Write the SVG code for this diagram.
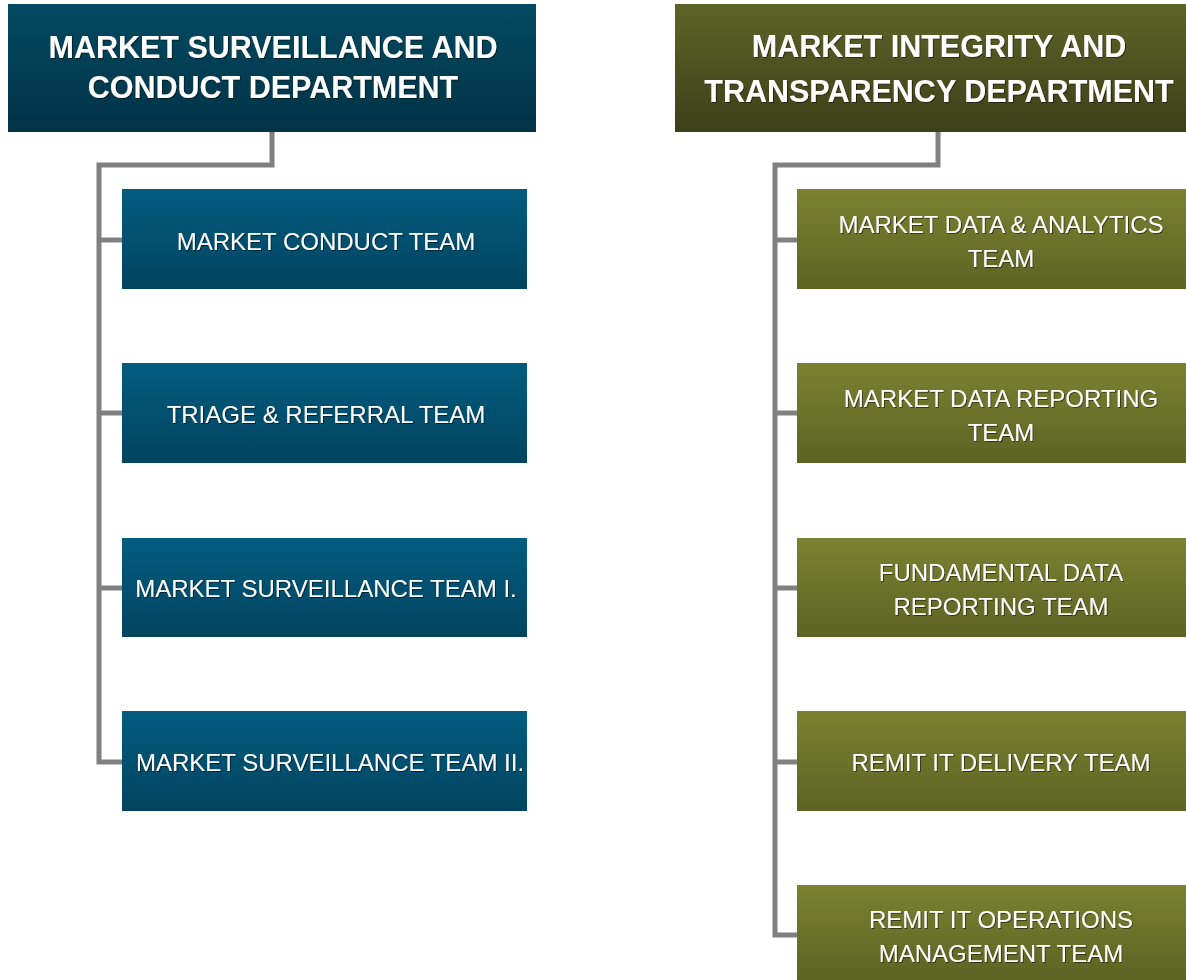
<svg xmlns="http://www.w3.org/2000/svg" width="1186" height="980" viewBox="0 0 1186 980">
<defs>
<linearGradient id="gBlueDept" x1="0" y1="0" x2="0" y2="1"><stop offset="0" stop-color="#034a62"/><stop offset="1" stop-color="#023245"/></linearGradient>
<linearGradient id="gBlueTeam" x1="0" y1="0" x2="0" y2="1"><stop offset="0" stop-color="#025c80"/><stop offset="1" stop-color="#02445f"/></linearGradient>
<linearGradient id="gGreenDept" x1="0" y1="0" x2="0" y2="1"><stop offset="0" stop-color="#5d6427"/><stop offset="1" stop-color="#3b4019"/></linearGradient>
<linearGradient id="gGreenTeam" x1="0" y1="0" x2="0" y2="1"><stop offset="0" stop-color="#7a8231"/><stop offset="1" stop-color="#5c6323"/></linearGradient>
<filter id="ts" x="-5%" y="-20%" width="110%" height="140%"><feDropShadow dx="1" dy="1" stdDeviation="0.6" flood-color="#000" flood-opacity="0.5"/></filter>
</defs>
<style>
.dept{font-family:"Liberation Sans",Arial,sans-serif;font-weight:bold;font-size:30.5px;fill:#fff;text-anchor:middle;filter:url(#ts)}
.team{font-family:"Liberation Sans",Arial,sans-serif;font-size:24px;fill:#fff;text-anchor:middle;filter:url(#ts)}
.conn{fill:none;stroke:#808080;stroke-width:5}
</style>
<rect width="1186" height="980" fill="#fff"/>
<g id="connectors">
<path class="conn" d="M272 132 V165 H99 V762 H122 M99 240 H122 M99 413 H122 M99 588 H122"/>
<path class="conn" d="M938 132 V165 H775 V935 H797 M775 240 H797 M775 413 H797 M775 588 H797 M775 762 H797"/>
</g>
<g id="dept-msc">
<rect x="8" y="4" width="528" height="128" fill="url(#gBlueDept)"/>
<text class="dept" x="273" y="58">MARKET SURVEILLANCE AND</text>
<text class="dept" x="273" y="98">CONDUCT DEPARTMENT</text>
</g>
<g id="dept-mit">
<rect x="675" y="4" width="511" height="128" fill="url(#gGreenDept)"/>
<text class="dept" x="939" y="57">MARKET INTEGRITY AND</text>
<text class="dept" x="939" y="102">TRANSPARENCY DEPARTMENT</text>
</g>
<g id="team-conduct">
<rect x="122" y="189" width="405" height="100" fill="url(#gBlueTeam)"/>
<text class="team" x="326" y="250">MARKET CONDUCT TEAM</text>
</g>
<g id="team-triage">
<rect x="122" y="363" width="405" height="100" fill="url(#gBlueTeam)"/>
<text class="team" x="326" y="423">TRIAGE &amp; REFERRAL TEAM</text>
</g>
<g id="team-surv1">
<rect x="122" y="538" width="405" height="99" fill="url(#gBlueTeam)"/>
<text class="team" x="326" y="597">MARKET SURVEILLANCE TEAM I.</text>
</g>
<g id="team-surv2">
<rect x="122" y="711" width="405" height="100" fill="url(#gBlueTeam)"/>
<text class="team" x="330" y="771">MARKET SURVEILLANCE TEAM II.</text>
</g>
<g id="team-data-analytics">
<rect x="797" y="189" width="389" height="100" fill="url(#gGreenTeam)"/>
<text class="team" x="1001" y="233">MARKET DATA &amp; ANALYTICS</text>
<text class="team" x="1001" y="267">TEAM</text>
</g>
<g id="team-data-reporting">
<rect x="797" y="363" width="389" height="100" fill="url(#gGreenTeam)"/>
<text class="team" x="1001" y="407">MARKET DATA REPORTING</text>
<text class="team" x="1001" y="441">TEAM</text>
</g>
<g id="team-fundamental">
<rect x="797" y="538" width="389" height="99" fill="url(#gGreenTeam)"/>
<text class="team" x="1001" y="581">FUNDAMENTAL DATA</text>
<text class="team" x="1001" y="615">REPORTING TEAM</text>
</g>
<g id="team-remit-delivery">
<rect x="797" y="711" width="389" height="100" fill="url(#gGreenTeam)"/>
<text class="team" x="1001" y="771">REMIT IT DELIVERY TEAM</text>
</g>
<g id="team-remit-ops">
<rect x="797" y="885" width="389" height="95" fill="url(#gGreenTeam)"/>
<text class="team" x="1001" y="928">REMIT IT OPERATIONS</text>
<text class="team" x="1001" y="962">MANAGEMENT TEAM</text>
</g>
</svg>
